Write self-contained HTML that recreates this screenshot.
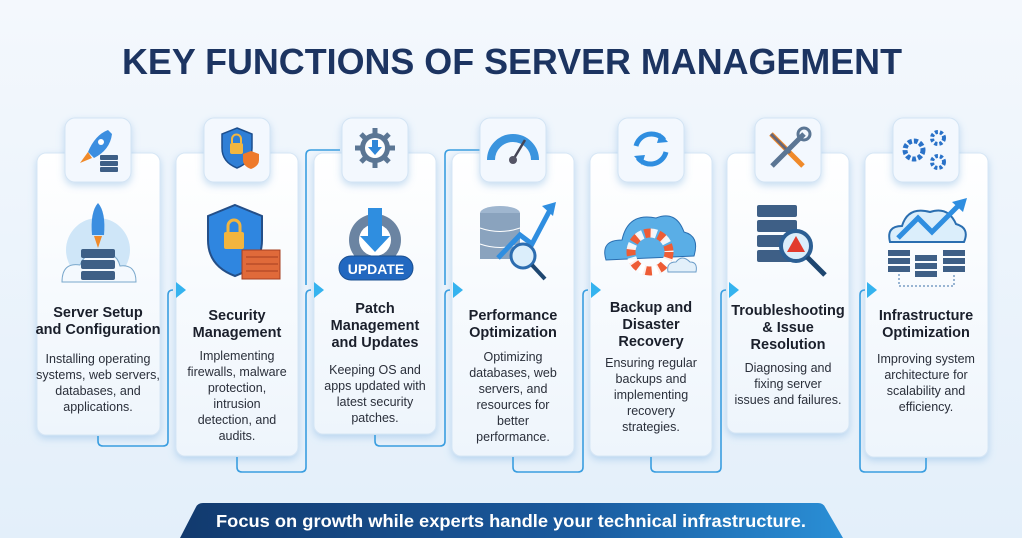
<!DOCTYPE html>
<html><head><meta charset="utf-8"><style>
html,body{margin:0;padding:0;width:1022px;height:538px;overflow:hidden;background:#eaf3fc;}
svg{display:block}
text{font-family:"Liberation Sans",sans-serif;}
.t{font-weight:bold;font-size:14.5px;fill:#1a1f2b;text-anchor:middle;}
.d{font-size:12.5px;fill:#2a2f3a;text-anchor:middle;}
</style></head><body>
<svg width="1022" height="538" viewBox="0 0 1022 538">
<defs>
<linearGradient id="bg" x1="0" y1="0" x2="0" y2="1"><stop offset="0" stop-color="#f4f8fd"/><stop offset="1" stop-color="#e3effa"/></linearGradient>
<linearGradient id="ban" x1="0" y1="0" x2="1" y2="0"><stop offset="0" stop-color="#123a6e"/><stop offset="0.6" stop-color="#1a5a9e"/><stop offset="1" stop-color="#2a8fd6"/></linearGradient>
<linearGradient id="card" x1="0" y1="0" x2="0" y2="1"><stop offset="0" stop-color="#ffffff"/><stop offset="1" stop-color="#eef5fc"/></linearGradient>
<filter id="sh" x="-20%" y="-20%" width="140%" height="140%"><feDropShadow dx="0" dy="3" stdDeviation="4" flood-color="#7fb2e0" flood-opacity="0.45"/></filter>
</defs>
<rect width="1022" height="538" fill="url(#bg)"/>
<text x="512" y="74" text-anchor="middle" font-size="36" font-weight="bold" fill="#1c3461" textLength="780" lengthAdjust="spacingAndGlyphs">KEY FUNCTIONS OF SERVER MANAGEMENT</text>

<!-- cards -->
<g fill="url(#card)" stroke="#d6e6f5" stroke-width="1" filter="url(#sh)">
<rect x="37" y="153" width="123" height="282" rx="9"/>
<rect x="176" y="153" width="122" height="303" rx="9"/>
<rect x="314" y="153" width="122" height="281" rx="9"/>
<rect x="452" y="153" width="122" height="303" rx="9"/>
<rect x="590" y="153" width="122" height="303" rx="9"/>
<rect x="727" y="153" width="122" height="280" rx="9"/>
<rect x="865" y="153" width="123" height="304" rx="9"/>
</g>

<!-- connectors -->
<g fill="none" stroke="#3a9ee0" stroke-width="1.6">
<path d="M98 436 V441 Q98 446 103 446 H163 Q168 446 168 441 V295 Q168 290 173 290"/>
<path d="M237 457 V467 Q237 472 242 472 H301 Q306 472 306 467 V295 Q306 290 311 290"/>
<path d="M340 150 H311 Q306 150 306 155 V285"/>
<path d="M375 435 V441 Q375 446 380 446 H440 Q445 446 445 441 V295 Q445 290 450 290"/>
<path d="M480 150 H450 Q445 150 445 155 V285"/>
<path d="M513 457 V467 Q513 472 518 472 H578 Q583 472 583 467 V295 Q583 290 588 290"/>
<path d="M651 457 V467 Q651 472 656 472 H716 Q721 472 721 467 V295 Q721 290 726 290"/>
<path d="M926 458 V467 Q926 472 921 472 H865 Q860 472 860 467 V295 Q860 290 865 290"/>
</g>
<g fill="#35b3ef">
<path d="M176 282 L186 290 L176 298Z"/><path d="M314 282 L324 290 L314 298Z"/><path d="M453 282 L463 290 L453 298Z"/>
<path d="M591 282 L601 290 L591 298Z"/><path d="M729 282 L739 290 L729 298Z"/><path d="M867 282 L877 290 L867 298Z"/>
</g>

<!-- icon boxes -->
<g fill="#f3f8fe" stroke="#d3e4f4" filter="url(#sh)">
<rect x="65" y="118" width="66" height="64" rx="10"/>
<rect x="204" y="118" width="66" height="64" rx="10"/>
<rect x="342" y="118" width="66" height="64" rx="10"/>
<rect x="480" y="118" width="66" height="64" rx="10"/>
<rect x="618" y="118" width="66" height="64" rx="10"/>
<rect x="755" y="118" width="66" height="64" rx="10"/>
<rect x="893" y="118" width="66" height="64" rx="10"/>
</g>

<!-- small icons -->
<g>
<path d="M108 130 Q95 135 88 152 L94 158 Q110 150 112 134Z" fill="#3b8ee0"/><circle cx="101" cy="142" r="3" fill="#fff"/>
<path d="M88 152 L80 163 L92 158Z" fill="#f08a2a"/>
<rect x="100" y="155" width="18" height="5" rx="1" fill="#3e5f86"/><rect x="100" y="161" width="18" height="5" rx="1" fill="#3e5f86"/><rect x="100" y="167" width="18" height="5" rx="1" fill="#3e5f86"/>
<path d="M237 128 L252 134 V148 Q252 162 237 168 Q222 162 222 148 V134Z" fill="#2f7fd6" stroke="#1d4f8e" stroke-width="1.5"/>
<rect x="230" y="143" width="13" height="11" rx="2" fill="#f2b640"/><path d="M232 143 V139 a4.5 4.5 0 0 1 9 0 V143" fill="none" stroke="#f2b640" stroke-width="2"/>
<path d="M251 151 L259 154 V160 Q259 166 251 169 Q243 166 243 160 V154Z" fill="#ee7a2b"/>
<circle cx="375" cy="148" r="15" fill="#5b7694"/><circle cx="375" cy="148" r="9" fill="#fff"/>
<g stroke="#5b7694" stroke-width="5"><line x1="375" y1="128" x2="375" y2="168"/><line x1="355" y1="148" x2="395" y2="148"/><line x1="361" y1="134" x2="389" y2="162"/><line x1="389" y1="134" x2="361" y2="162"/></g>
<circle cx="375" cy="148" r="10" fill="#fff"/><path d="M372 140 H378 V147 H382 L375 155 L368 147 H372Z" fill="#2f86d8"/>
<path d="M491 160 A22 22 0 0 1 535 160" fill="none" stroke="#3a94de" stroke-width="8"/>
<line x1="513" y1="160" x2="525" y2="140" stroke="#445" stroke-width="2.5"/><circle cx="513" cy="160" r="4" fill="#556"/>
<path d="M636 146 A16 16 0 0 1 664 140" fill="none" stroke="#2f8ee0" stroke-width="5"/><path d="M660 133 L668 142 L657 143Z" fill="#2f8ee0"/>
<path d="M666 152 A16 16 0 0 1 638 158" fill="none" stroke="#2f8ee0" stroke-width="5"/><path d="M642 165 L634 156 L645 155Z" fill="#2f8ee0"/>
<line x1="771" y1="134" x2="803" y2="166" stroke="#f08a2a" stroke-width="5"/><line x1="771" y1="134" x2="790" y2="153" stroke="#667" stroke-width="3"/>
<line x1="804" y1="134" x2="772" y2="166" stroke="#5b7694" stroke-width="5"/><circle cx="804" cy="134" r="6" fill="none" stroke="#5b7694" stroke-width="3"/>
<circle cx="914" cy="150" r="9" fill="none" stroke="#2a72c8" stroke-width="5" stroke-dasharray="4 2"/>
<circle cx="938" cy="138" r="6" fill="none" stroke="#2a72c8" stroke-width="4" stroke-dasharray="3 2"/>
<circle cx="938" cy="162" r="6" fill="none" stroke="#2a72c8" stroke-width="4" stroke-dasharray="3 2"/>
</g>

<!-- main illustrations -->
<g>
<circle cx="98" cy="250" r="32" fill="#cfe6f8"/>
<path d="M62 282 Q62 262 80 265 Q86 250 100 256 Q116 250 120 266 Q136 264 136 282Z" fill="#f4f9fe" stroke="#7aa8cc"/>
<path d="M98 203 Q106 212 104 235 H92 Q90 212 98 203Z" fill="#3b8ee0"/><path d="M94 236 L98 248 L102 236Z" fill="#f08a2a"/>
<rect x="81" y="249" width="34" height="9" rx="2" fill="#3e5f86"/><rect x="81" y="260" width="34" height="9" rx="2" fill="#3e5f86"/><rect x="81" y="271" width="34" height="9" rx="2" fill="#3e5f86"/>
<path d="M235 205 L262 216 V240 Q262 266 235 276 Q208 266 208 240 V216Z" fill="#2f86e0" stroke="#244f88" stroke-width="2"/>
<rect x="224" y="232" width="20" height="17" rx="2" fill="#f3b53e"/><path d="M228 232 V226 a6 6 0 0 1 12 0 V232" fill="none" stroke="#f3b53e" stroke-width="3"/>
<rect x="242" y="250" width="38" height="29" fill="#e06a3a" stroke="#a63f20"/>
<path d="M246 257 H278 M246 264 H278 M246 271 H278" stroke="#a63f20"/>
<circle cx="375" cy="240" r="26" fill="#6b84a2"/><circle cx="375" cy="240" r="16" fill="#fff"/>
<path d="M368 208 H382 V236 H390 L375 252 L360 236 H368Z" fill="#2f8ee0"/>
<rect x="339" y="256" width="74" height="24" rx="12" fill="#2268c0" stroke="#1b4f90"/>
<text x="376" y="274" text-anchor="middle" font-size="14" font-weight="bold" fill="#fff">UPDATE</text>
<ellipse cx="500" cy="213" rx="20" ry="7" fill="#9fb6cf"/><rect x="480" y="213" width="40" height="46" fill="#8aa3be"/>
<path d="M480 228 Q500 235 520 228 M480 244 Q500 251 520 244" stroke="#fff" fill="none"/>
<path d="M498 258 L520 235 L532 244 L550 210" fill="none" stroke="#2f8ee0" stroke-width="5"/><path d="M542 206 L556 202 L553 216Z" fill="#2f8ee0"/>
<circle cx="523" cy="256" r="12" fill="#dbeefb" stroke="#2c6db0" stroke-width="3"/><line x1="532" y1="265" x2="545" y2="279" stroke="#1e4670" stroke-width="4"/>
<path d="M606 260 Q600 240 622 240 Q628 212 656 218 Q676 210 684 232 Q700 236 694 256Z" fill="#5aaee6" stroke="#2a6eb0"/>
<circle cx="650" cy="252" r="19" fill="none" stroke="#ee5c35" stroke-width="9" stroke-dasharray="8 6"/>
<circle cx="650" cy="252" r="19" fill="none" stroke="#fff" stroke-width="9" stroke-dasharray="6 8" stroke-dashoffset="8" opacity="0.9"/>
<path d="M668 272 Q666 262 676 262 Q682 254 690 262 Q698 262 696 272Z" fill="#e3f0fa" stroke="#6b9cc8"/>
<rect x="757" y="205" width="40" height="12" rx="2" fill="#3e5f86"/><rect x="757" y="220" width="40" height="12" rx="2" fill="#3e5f86"/><rect x="757" y="235" width="40" height="12" rx="2" fill="#3e5f86"/><rect x="757" y="250" width="40" height="12" rx="2" fill="#3e5f86"/>
<circle cx="796" cy="246" r="15" fill="#dbeefb" stroke="#2c5f94" stroke-width="4"/><path d="M796 236 L805 252 H787Z" fill="#e23b2e"/>
<line x1="807" y1="257" x2="825" y2="275" stroke="#1e4670" stroke-width="5"/>
<path d="M890 242 Q886 226 902 226 Q908 206 930 212 Q948 206 956 224 Q970 228 964 242Z" fill="#dbeefb" stroke="#2a6eb0" stroke-width="2"/>
<path d="M898 238 L918 218 L932 232 L960 204" fill="none" stroke="#2f8ee0" stroke-width="5"/><path d="M952 202 L967 198 L963 212Z" fill="#2f8ee0"/>
<g fill="#3e5f86"><rect x="888" y="250" width="22" height="6"/><rect x="888" y="258" width="22" height="6"/><rect x="888" y="266" width="22" height="6"/>
<rect x="915" y="255" width="22" height="6"/><rect x="915" y="263" width="22" height="6"/><rect x="915" y="271" width="22" height="6"/>
<rect x="943" y="250" width="22" height="6"/><rect x="943" y="258" width="22" height="6"/><rect x="943" y="266" width="22" height="6"/></g>
<path d="M899 274 V286 H954 V274" fill="none" stroke="#3a6fa8" stroke-dasharray="2 2"/>
</g>

<!-- text -->
<text class="t" x="98" y="317">Server Setup</text><text class="t" x="98" y="334">and Configuration</text>
<text class="d" x="98" y="363">Installing operating</text><text class="d" x="98" y="379">systems, web servers,</text><text class="d" x="98" y="395">databases, and</text><text class="d" x="98" y="411">applications.</text>
<text class="t" x="237" y="320">Security</text><text class="t" x="237" y="337">Management</text>
<text class="d" x="237" y="360">Implementing</text><text class="d" x="237" y="376">firewalls, malware</text><text class="d" x="237" y="392">protection,</text><text class="d" x="237" y="408">intrusion</text><text class="d" x="237" y="424">detection, and</text><text class="d" x="237" y="440">audits.</text>
<text class="t" x="375" y="313">Patch</text><text class="t" x="375" y="330">Management</text><text class="t" x="375" y="347">and Updates</text>
<text class="d" x="375" y="374">Keeping OS and</text><text class="d" x="375" y="390">apps updated with</text><text class="d" x="375" y="406">latest security</text><text class="d" x="375" y="422">patches.</text>
<text class="t" x="513" y="320">Performance</text><text class="t" x="513" y="337">Optimization</text>
<text class="d" x="513" y="361">Optimizing</text><text class="d" x="513" y="377">databases, web</text><text class="d" x="513" y="393">servers, and</text><text class="d" x="513" y="409">resources for</text><text class="d" x="513" y="425">better</text><text class="d" x="513" y="441">performance.</text>
<text class="t" x="651" y="312">Backup and</text><text class="t" x="651" y="329">Disaster</text><text class="t" x="651" y="346">Recovery</text>
<text class="d" x="651" y="367">Ensuring regular</text><text class="d" x="651" y="383">backups and</text><text class="d" x="651" y="399">implementing</text><text class="d" x="651" y="415">recovery</text><text class="d" x="651" y="431">strategies.</text>
<text class="t" x="788" y="315">Troubleshooting</text><text class="t" x="788" y="332">&amp; Issue</text><text class="t" x="788" y="349">Resolution</text>
<text class="d" x="788" y="372">Diagnosing and</text><text class="d" x="788" y="388">fixing server</text><text class="d" x="788" y="404">issues and failures.</text>
<text class="t" x="926" y="320">Infrastructure</text><text class="t" x="926" y="337">Optimization</text>
<text class="d" x="926" y="363">Improving system</text><text class="d" x="926" y="379">architecture for</text><text class="d" x="926" y="395">scalability and</text><text class="d" x="926" y="411">efficiency.</text>

<!-- banner -->
<path d="M180 538 L196 507 Q198 503 203 503 H818 Q823 503 825 507 L843 538Z" fill="url(#ban)"/>
<text x="511" y="527" text-anchor="middle" font-size="17.5" font-weight="bold" fill="#fff" textLength="590" lengthAdjust="spacingAndGlyphs">Focus on growth while experts handle your technical infrastructure.</text>
</svg>
</body></html>
